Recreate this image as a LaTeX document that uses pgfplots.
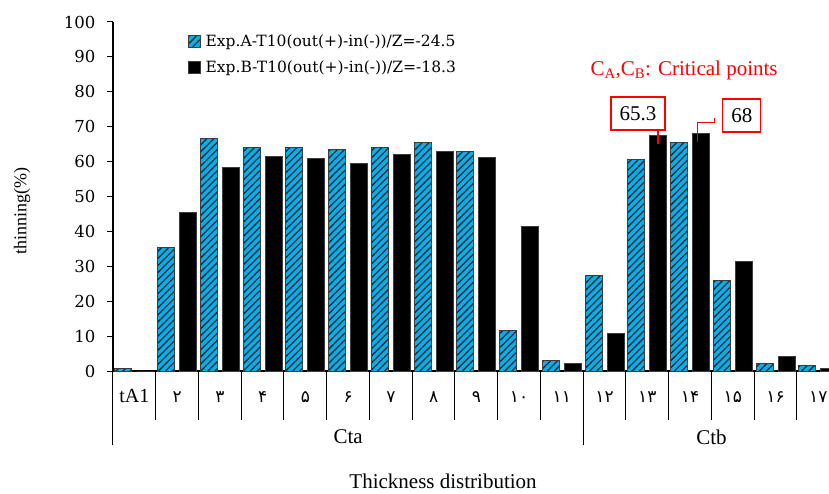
\documentclass[border=0pt]{standalone}
\usepackage{pgfplots}
\pgfplotsset{compat=1.18}
\usepackage{fontspec}
\setmainfont{Liberation Serif}
\newfontfamily\tickfont{DejaVu Serif}
\newfontfamily\arabicfont[Script=Arabic]{DejaVu Sans}
\usetikzlibrary{patterns.meta}
\definecolor{barblue}{RGB}{0,176,240}
\definecolor{edgegray}{RGB}{60,60,60}
\newcommand\ar[1]{{\arabicfont\fontsize{17bp}{19bp}\selectfont #1}}

\pgfplotstableread{
x A B
0 0.7 0
1 35.3 45.5
2 66.7 58.2
3 64.0 61.5
4 64.0 60.8
5 63.4 59.5
6 64.0 62.1
7 65.4 62.8
8 62.8 61.2
9 11.5 41.4
10 2.9 2.2
11 27.4 10.8
12 60.7 67.4
13 65.4 68.0
14 25.8 31.5
15 2.2 4.2
16 1.5 0.8
}\datatable

\begin{document}
\begin{tikzpicture}
\begin{axis}[
  name=ax,
  at={(0,0)}, anchor=south west,
  scale only axis, width=716bp, height=349bp,
  xmin=-0.5, xmax=16.25, ymin=0, ymax=100,
  clip=false,
  axis lines*=left,
  axis line style={black, line width=1.3bp},
  x axis line style={line width=2bp},
  ybar=5bp, bar width=17bp,
  ytick={0,10,...,100},
  tick align=outside,
  major tick length=6bp,
  minor tick length=49bp,
  ytick style={black, line width=1bp},
  yticklabel style={font=\tickfont\fontsize{16.5bp}{18bp}\selectfont, xshift=-8bp},
  /pgf/number format/assume math mode=true,
  xtick={0,...,16},
  xticklabels={tA1,\ar{۲},\ar{۳},\ar{۴},\ar{۵},\ar{۶},\ar{۷},\ar{۸},\ar{۹},\ar{۱۰},\ar{۱۱},\ar{۱۲},\ar{۱۳},\ar{۱۴},\ar{۱۵},\ar{۱۶},\ar{۱۷}},
  major x tick style={draw=none},
  minor xtick={-0.5,0.5,1.5,2.5,3.5,4.5,5.5,6.5,7.5,8.5,9.5,10.5,11.5,12.5,13.5,14.5,15.5,16.5},
  minor x tick style={draw=black, line width=1bp},
  xticklabel style={font=\fontsize{20bp}{22bp}\selectfont, anchor=base, yshift=-25bp},
  ylabel={thinning(\%)},
  ylabel style={at={(rel axis cs:-0.1271,0.4585)}, anchor=center, font=\fontsize{18bp}{20bp}\selectfont},
  xlabel={Thickness distribution},
  xlabel style={at={(rel axis cs:0.461,0)}, anchor=center, yshift=-110bp, font=\fontsize{21bp}{23bp}\selectfont},
  legend style={at={(rel axis cs:0.1047,0.9685)}, anchor=north west, draw=none, fill=none,
    font=\tickfont\fontsize{15.5bp}{18bp}\selectfont, row sep=8bp, inner sep=0pt,
    nodes={inner xsep=4.5bp}},
  legend cell align=left,
  legend image code/.code={\draw[#1] (0bp,-6bp) rectangle (12bp,6bp);},
]
\addplot[fill=barblue, draw=edgegray, line width=1bp,
  postaction={pattern={Lines[angle=45,distance=5bp,line width=1.3bp]}, pattern color=black!85}]
  table[x=x, y=A] {\datatable};
\addlegendentry{Exp.A-T10(out(+)-in(-))/Z=-24.5}
\addplot[fill=black, draw=edgegray, line width=1bp]
  table[x=x, y=B] {\datatable};
\addlegendentry{Exp.B-T10(out(+)-in(-))/Z=-18.3}

\draw[black, line width=1bp] (axis cs:-0.5,0) -- ([yshift=-74bp]axis cs:-0.5,0);
\draw[black, line width=1bp] (axis cs:10.5,0) -- ([yshift=-74bp]axis cs:10.5,0);
\node[font=\fontsize{21bp}{23bp}\selectfont, yshift=-66bp] at (axis cs:5,0) {Cta};
\node[font=\fontsize{21bp}{23bp}\selectfont, yshift=-66bp] at (axis cs:13.5,0) {Ctb};

\node[text=red, font=\fontsize{21bp}{24bp}\selectfont] at (axis cs:12.86,86.2) {C\textsubscript{A},C\textsubscript{B}: Critical points};
\node[draw=red, fill=white, line width=1.2bp, font=\fontsize{21bp}{24bp}\selectfont, minimum width=54bp, minimum height=33bp, inner sep=0pt] at (axis cs:11.78,73.8) {65.3};
\draw[red, line width=1.2bp] (axis cs:12.25,69.05) -- (axis cs:12.25,65.0);
\node[draw=red, fill=white, line width=1.2bp, font=\fontsize{21bp}{24bp}\selectfont, minimum width=38bp, minimum height=33bp, inner sep=0pt] at (axis cs:14.21,73.2) {68};
\draw[red, line width=1.2bp] (axis cs:13.58,72.5) -- (axis cs:13.58,71.3) -- (axis cs:13.18,71.3) -- (axis cs:13.18,65.6);
\end{axis}
\pgfresetboundingbox
\path[use as bounding box] ([shift={(-113bp,-123bp)}]ax.south west) rectangle ([shift={(716bp,371bp)}]ax.south west);
\end{tikzpicture}
\end{document}
